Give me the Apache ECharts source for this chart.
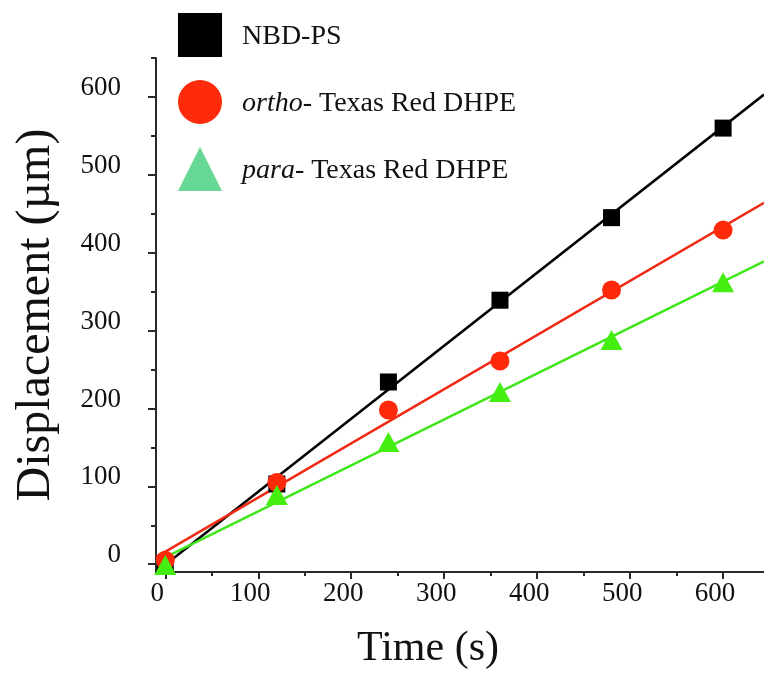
<!DOCTYPE html>
<html><head><meta charset="utf-8">
<script src="https://cdn.jsdelivr.net/npm/echarts@6/dist/echarts.min.js"></script>
<style>html,body{margin:0;padding:0;background:#fff}#c{width:764px;height:677px}</style>
</head><body><div id="c"></div>
<script>
// Data
const times   = [0, 120, 240, 360, 480, 600];
const nbdPS   = [0, 103, 234, 339, 445, 560];
const orthoTR = [5, 105, 198, 261, 352, 429];
const paraTR  = [-1, 89, 157, 221, 288, 362];
// Linear fit lines, values read at the left and right plot edges
const fitX     = [-10, 644];
const nbdFit   = [-10, 603];
const orthoFit = [9, 464];
const paraFit  = [3, 389];
// Axis ticks
const xTicks = [0, 100, 200, 300, 400, 500, 600];
const xMinor = [50, 150, 250, 350, 450, 550];
const yTicks = [0, 100, 200, 300, 400, 500, 600];
const yMinor = [50, 150, 250, 350, 450, 550, 650];
const names = ['NBD-PS', 'ortho- Texas Red DHPE', 'para- Texas Red DHPE'];

const serif = 'Liberation Serif';
const axisCol = '#2a2a2a';
const pairs = (xs, ys) => xs.map((x, i) => [x, ys[i]]);

const chart = echarts.init(document.getElementById('c'), null, {renderer: 'canvas'});
chart.setOption({
  animation: false,
  backgroundColor: '#fff',
  grid: {left: 156, right: 0, top: 58, bottom: 105},
  legend: {
    orient: 'vertical', left: 173, top: 8,
    itemWidth: 44, itemHeight: 44, itemGap: 23,
    data: [
      {name: names[0], icon: 'rect', itemStyle: {color: '#000', opacity: 1}},
      {name: names[1], icon: 'circle', itemStyle: {color: '#ff2a0a', opacity: 1}},
      {name: names[2], icon: 'triangle', itemStyle: {color: '#66d996', opacity: 1}}
    ],
    formatter: n => {
      const k = n.indexOf('- ');
      if (k > 0 && n !== 'NBD-PS') return '{i|' + n.slice(0, k + 1) + '}{r|' + n.slice(k + 1) + '}';
      return '{r|' + n + '}';
    },
    textStyle: {
      fontFamily: serif, fontSize: 28, color: '#111', padding: [4, 0, 0, 15],
      rich: {
        i: {fontFamily: serif, fontSize: 28, fontStyle: 'italic', color: '#111'},
        r: {fontFamily: serif, fontSize: 28, color: '#111'}
      }
    }
  },
  xAxis: [{
    type: 'value', min: -10, max: 644, position: 'bottom',
    axisLine: {show: true, onZero: false, lineStyle: {color: axisCol, width: 2}},
    axisTick: {show: true, customValues: xTicks, length: 7, lineStyle: {color: axisCol, width: 2}},
    axisLabel: {customValues: xTicks, fontFamily: serif, fontSize: 27, color: '#111', margin: 8, padding: [0, 16, 0, 0]},
    splitLine: {show: false},
    name: 'Time (s)', nameLocation: 'middle', nameGap: 56,
    nameTextStyle: {fontFamily: serif, fontSize: 42, color: '#111', padding: [0, 64, 0, 0]}
  }, {
    type: 'value', min: -10, max: 644, position: 'bottom',
    axisLine: {show: false, onZero: false},
    axisTick: {show: true, customValues: xMinor, length: 4, lineStyle: {color: axisCol, width: 2}},
    axisLabel: {show: false}, splitLine: {show: false}
  }],
  yAxis: [{
    type: 'value', min: -10, max: 650, position: 'left',
    axisLine: {show: true, onZero: false, lineStyle: {color: axisCol, width: 2}},
    axisTick: {show: true, customValues: yTicks, length: 8, lineStyle: {color: axisCol, width: 2}},
    axisLabel: {customValues: yTicks, fontFamily: serif, fontSize: 27, color: '#111', margin: 35, verticalAlign: 'bottom', lineHeight: 18},
    splitLine: {show: false},
    name: 'Displacement (\u00b5m)', nameLocation: 'middle', nameGap: 96,
    nameTextStyle: {fontFamily: serif, fontSize: 48, color: '#111'}
  }, {
    type: 'value', min: -10, max: 650, position: 'left',
    axisLine: {show: false, onZero: false},
    axisTick: {show: true, customValues: yMinor, length: 5, lineStyle: {color: axisCol, width: 2}},
    axisLabel: {show: false}, splitLine: {show: false}
  }],
  series: [
    {name: 'fit-nbd', type: 'line', data: pairs(fitX, nbdFit), showSymbol: false, lineStyle: {color: '#000', width: 2.5}, z: 2},
    {name: 'fit-ortho', type: 'line', data: pairs(fitX, orthoFit), showSymbol: false, lineStyle: {color: '#f02a14', width: 2.5}, z: 2},
    {name: 'fit-para', type: 'line', data: pairs(fitX, paraFit), showSymbol: false, lineStyle: {color: '#3ee61a', width: 2.5}, z: 2},
    {name: names[0], type: 'scatter', data: pairs(times, nbdPS), symbol: 'rect', symbolSize: 17, itemStyle: {color: '#000', opacity: 1}, z: 3},
    {name: names[1], type: 'scatter', data: pairs(times, orthoTR), symbol: 'circle', symbolSize: 19, itemStyle: {color: '#ff2a0a', opacity: 1}, z: 3},
    {name: names[2], type: 'scatter', data: pairs(times, paraTR), symbol: 'triangle', symbolSize: [22, 20], itemStyle: {color: '#44ee11', opacity: 1}, z: 3}
  ]
});
</script>
</body></html>
